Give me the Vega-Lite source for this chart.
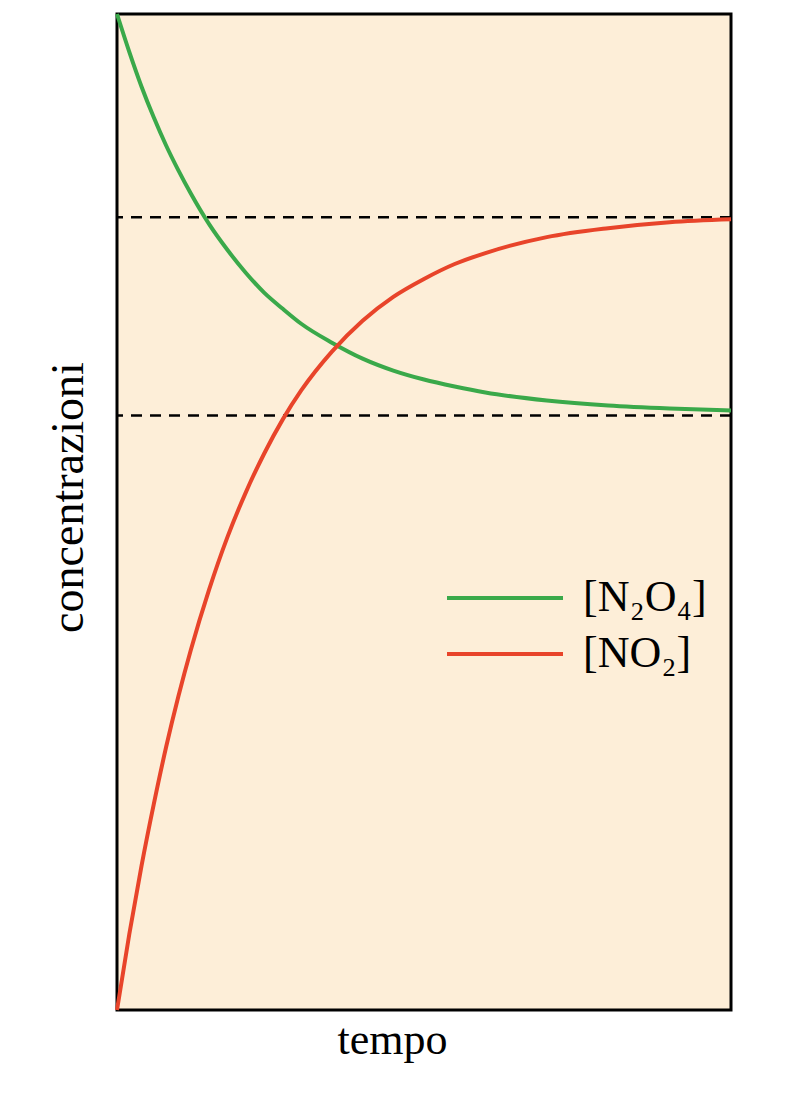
{
  "$schema": "https://vega.github.io/schema/vega-lite/v6.json",
  "autosize": "none",
  "padding": {"left": 117, "top": 14, "right": 81, "bottom": 83},
  "width": 614,
  "height": 996,
  "background": "white",
  "view": {"fill": "#fdeed8", "stroke": "black", "strokeWidth": 3},
  "config": {"font": "Liberation Serif"},
  "datasets": {
    "curves": [
      {"t": 0, "s": "[N₂O₄]", "c": 100}, {"t": 2, "s": "[N₂O₄]", "c": 96.2}, {"t": 4, "s": "[N₂O₄]", "c": 92.7},
      {"t": 6, "s": "[N₂O₄]", "c": 89.6}, {"t": 8, "s": "[N₂O₄]", "c": 86.8}, {"t": 10, "s": "[N₂O₄]", "c": 84.3},
      {"t": 12, "s": "[N₂O₄]", "c": 82.0}, {"t": 15, "s": "[N₂O₄]", "c": 78.9}, {"t": 18, "s": "[N₂O₄]", "c": 76.3},
      {"t": 21, "s": "[N₂O₄]", "c": 74.0}, {"t": 24, "s": "[N₂O₄]", "c": 72.0}, {"t": 27, "s": "[N₂O₄]", "c": 70.4},
      {"t": 30, "s": "[N₂O₄]", "c": 68.9}, {"t": 35, "s": "[N₂O₄]", "c": 67.0}, {"t": 40, "s": "[N₂O₄]", "c": 65.4},
      {"t": 45, "s": "[N₂O₄]", "c": 64.2}, {"t": 50, "s": "[N₂O₄]", "c": 63.3}, {"t": 55, "s": "[N₂O₄]", "c": 62.6},
      {"t": 60, "s": "[N₂O₄]", "c": 62.0}, {"t": 70, "s": "[N₂O₄]", "c": 61.2}, {"t": 80, "s": "[N₂O₄]", "c": 60.7},
      {"t": 90, "s": "[N₂O₄]", "c": 60.4}, {"t": 100, "s": "[N₂O₄]", "c": 60.2},
      {"t": 0, "s": "[NO₂]", "c": 0}, {"t": 2, "s": "[NO₂]", "c": 7.6}, {"t": 4, "s": "[NO₂]", "c": 14.5},
      {"t": 6, "s": "[NO₂]", "c": 20.7}, {"t": 8, "s": "[NO₂]", "c": 26.4}, {"t": 10, "s": "[NO₂]", "c": 31.5},
      {"t": 12, "s": "[NO₂]", "c": 36.1}, {"t": 15, "s": "[NO₂]", "c": 42.2}, {"t": 18, "s": "[NO₂]", "c": 47.5},
      {"t": 21, "s": "[NO₂]", "c": 52.0}, {"t": 24, "s": "[NO₂]", "c": 55.9}, {"t": 27, "s": "[NO₂]", "c": 59.3},
      {"t": 30, "s": "[NO₂]", "c": 62.2}, {"t": 35, "s": "[NO₂]", "c": 66.1}, {"t": 40, "s": "[NO₂]", "c": 69.2},
      {"t": 45, "s": "[NO₂]", "c": 71.6}, {"t": 50, "s": "[NO₂]", "c": 73.4}, {"t": 55, "s": "[NO₂]", "c": 74.9},
      {"t": 60, "s": "[NO₂]", "c": 76.0}, {"t": 70, "s": "[NO₂]", "c": 77.6}, {"t": 80, "s": "[NO₂]", "c": 78.5},
      {"t": 90, "s": "[NO₂]", "c": 79.1}, {"t": 100, "s": "[NO₂]", "c": 79.4}
    ],
    "levels": [{"c": 79.6}, {"c": 59.7}]
  },
  "layer": [
    {
      "data": {"name": "levels"},
      "mark": {"type": "rule", "color": "black", "strokeWidth": 2.5, "strokeDash": [11, 8]},
      "encoding": {"y": {"field": "c", "type": "quantitative", "scale": {"domain": [0, 100]}}}
    },
    {
      "data": {"name": "curves"},
      "mark": {"type": "line", "strokeWidth": 4, "interpolate": "monotone"},
      "encoding": {
        "x": {"field": "t", "type": "quantitative", "scale": {"domain": [0, 100], "nice": false},
              "axis": {"title": "tempo", "labels": false, "ticks": false, "grid": false, "domain": false,
                       "titleFontSize": 44, "titleFontWeight": "normal", "titleColor": "black", "titleFont": "Liberation Serif",
                       "titleX": 275, "titleY": 43, "titleAlign": "center", "titleBaseline": "alphabetic"}},
        "y": {"field": "c", "type": "quantitative", "scale": {"domain": [0, 100], "nice": false},
              "axis": {"title": "concentrazioni", "labels": false, "ticks": false, "grid": false, "domain": false,
                       "titleFontSize": 46, "titleFontWeight": "normal", "titleColor": "black", "titleFont": "Liberation Serif",
                       "titleX": -35, "titleY": 483, "titleAlign": "center", "titleBaseline": "alphabetic", "titleAngle": -90}},
        "color": {"field": "s", "type": "nominal", "sort": ["[N₂O₄]", "[NO₂]"],
                  "scale": {"domain": ["[N₂O₄]", "[NO₂]"], "range": ["#3aa94a", "#e8442a"]},
                  "legend": {"title": null, "orient": "none", "legendX": 357, "legendY": 553,
                             "symbolType": "M-2,0H2", "symbolSize": 3364, "symbolStrokeWidth": 4,
                             "labelFontSize": 44, "labelFont": "Liberation Serif", "labelColor": "black",
                             "labelOffset": 47, "rowPadding": 3}}
      }
    }
  ]
}
